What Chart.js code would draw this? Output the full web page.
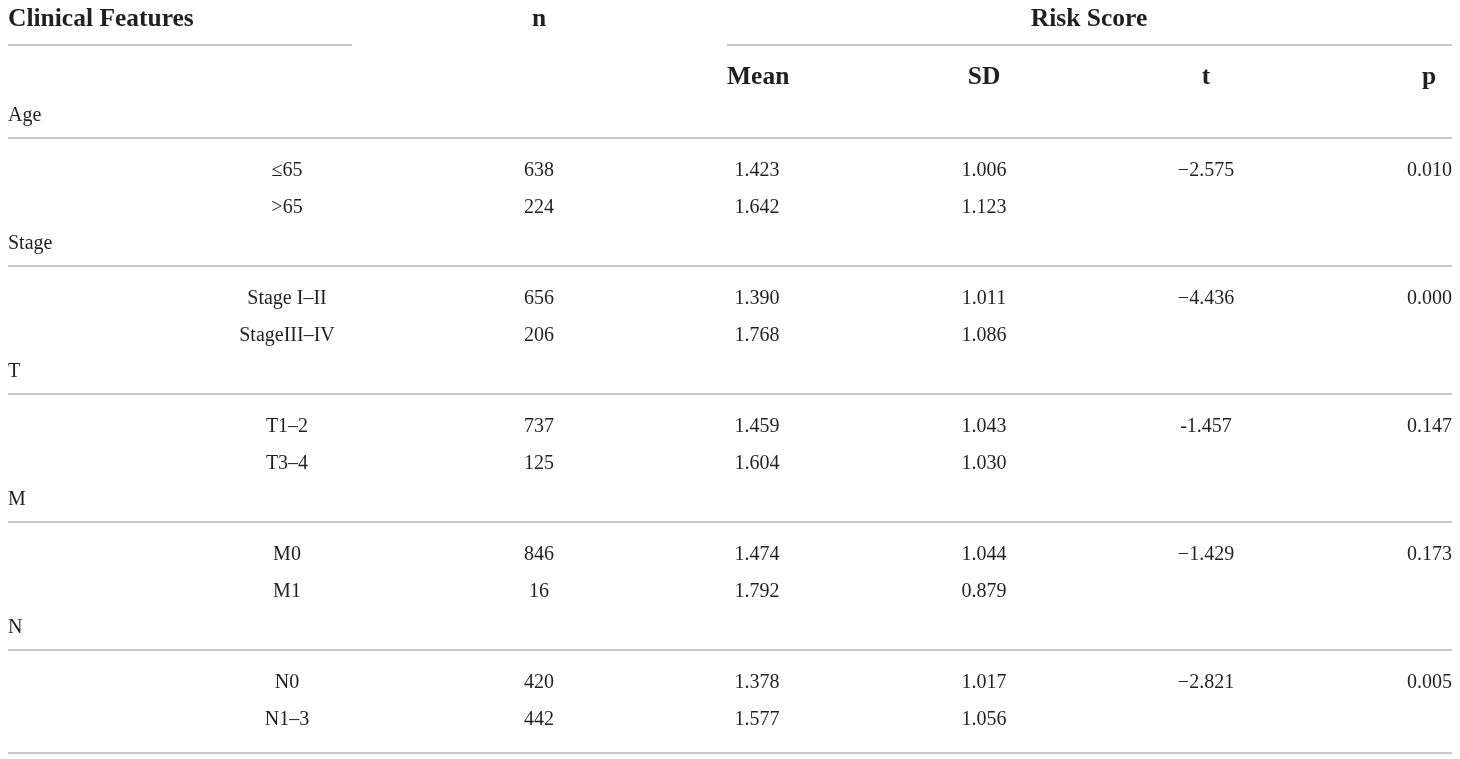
<!DOCTYPE html>
<html lang="en">
<head>
    <meta charset="UTF-8">
    <title>Risk Score by Clinical Features</title>
    <script src="https://cdn.jsdelivr.net/npm/chart.js"></script>
    <style>
        html, body { margin: 0; padding: 0; background: #fff; }
        #wrap { width: 1460px; height: 759px; position: relative; }
    </style>
</head>
<body>
    <div id="wrap"><canvas id="tableChart"></canvas></div>
    <script>
        // table data
        const groups = ['Age', 'Stage', 'T', 'M', 'N'];
        const subgroups = [['≤65', '>65'], ['Stage I–II', 'StageIII–IV'], ['T1–2', 'T3–4'], ['M0', 'M1'], ['N0', 'N1–3']];
        const nValues = [[638, 224], [656, 206], [737, 125], [846, 16], [420, 442]];
        const meanValues = [['1.423', '1.642'], ['1.390', '1.768'], ['1.459', '1.604'], ['1.474', '1.792'], ['1.378', '1.577']];
        const sdValues = [['1.006', '1.123'], ['1.011', '1.086'], ['1.043', '1.030'], ['1.044', '0.879'], ['1.017', '1.056']];
        const tValues = ['−2.575', '−4.436', '-1.457', '−1.429', '−2.821'];
        const pValues = ['0.010', '0.000', '0.147', '0.173', '0.005'];

        // layout (in scale units, same as pixels here)
        const colSub = 287, colN = 539, colMean = 757, colSD = 984, colT = 1206, colP = 1429;
        const rowHead1 = 19, rowHead2 = 77, groupTop = 116, groupStep = 128;
        const textColor = '#231f20';
        const ruleColor = '#c9c9c9';
        const bodyFont = '20px "Liberation Serif", "DejaVu Serif", serif';
        const headFont = 'bold 25.5px "Liberation Serif", "DejaVu Serif", serif';

        function groupY(g) { return groupTop + g * groupStep; }

        // horizontal rules as line datasets
        const rules = [
            { x0: 8, x1: 352, y: 45 },
            { x0: 727, x1: 1452, y: 45 }
        ];
        groups.forEach((g, i) => rules.push({ x0: 8, x1: 1452, y: groupY(i) + 22 }));
        rules.push({ x0: 8, x1: 1452, y: groupY(groups.length - 1) + 125 });

        const datasets = rules.map(r => ({
            type: 'line',
            data: [{ x: r.x0, y: r.y }, { x: r.x1, y: r.y }],
            borderColor: ruleColor,
            borderWidth: 2,
            pointRadius: 0,
            fill: false
        }));

        const tableText = {
            id: 'tableText',
            afterDatasetsDraw(chart) {
                const ctx = chart.ctx;
                const xs = chart.scales.x, ys = chart.scales.y;
                function put(txt, x, y, align, font) {
                    ctx.font = font;
                    ctx.textAlign = align;
                    ctx.fillText(txt, xs.getPixelForValue(x), ys.getPixelForValue(y));
                }
                ctx.save();
                ctx.fillStyle = textColor;
                ctx.textBaseline = 'middle';

                put('Clinical Features', 8, rowHead1, 'left', headFont);
                put('n', colN, rowHead1, 'center', headFont);
                put('Risk Score', 1089, rowHead1, 'center', headFont);
                put('Mean', 727, rowHead2, 'left', headFont);
                put('SD', colSD, rowHead2, 'center', headFont);
                put('t', colT, rowHead2, 'center', headFont);
                put('p', colP, rowHead2, 'center', headFont);

                groups.forEach((g, i) => {
                    const gy = groupY(i);
                    put(g, 8, gy, 'left', bodyFont);
                    subgroups[i].forEach((s, j) => {
                        const ry = gy + 55 + j * 37;
                        put(s, colSub, ry, 'center', bodyFont);
                        put(String(nValues[i][j]), colN, ry, 'center', bodyFont);
                        put(meanValues[i][j], colMean, ry, 'center', bodyFont);
                        put(sdValues[i][j], colSD, ry, 'center', bodyFont);
                    });
                    put(tValues[i], colT, gy + 55, 'center', bodyFont);
                    put(pValues[i], 1452, gy + 55, 'right', bodyFont);
                });
                ctx.restore();
            }
        };

        new Chart(document.getElementById('tableChart'), {
            type: 'scatter',
            data: { datasets: datasets },
            options: {
                responsive: true,
                maintainAspectRatio: false,
                animation: false,
                layout: { padding: 0 },
                plugins: { legend: { display: false }, tooltip: { enabled: false } },
                scales: {
                    x: { type: 'linear', min: 0, max: 1460, display: false },
                    y: { type: 'linear', min: 0, max: 759, reverse: true, display: false }
                }
            },
            plugins: [tableText]
        });
    </script>
</body>
</html>
